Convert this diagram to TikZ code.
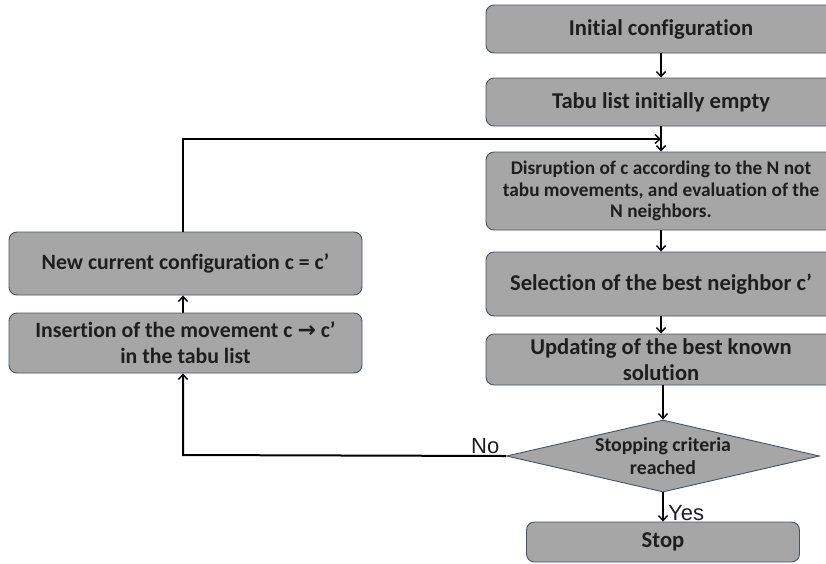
\documentclass[tikz,border=0pt]{standalone}
\usepackage{fontspec}
\setmainfont{Carlito}[Ligatures={NoCommon,NoContextual}]
\newfontfamily\arialfont{Liberation Sans}
\newfontfamily\symfont{DejaVu Sans}
\usetikzlibrary{shapes.geometric,arrows.meta}
\definecolor{boxfill}{RGB}{166,166,166}
\definecolor{boxline}{RGB}{70,84,104}
\definecolor{txt}{RGB}{30,30,30}
\begin{document}
\begin{tikzpicture}[x=1pt,y=-1pt,
  box/.style={draw=boxline,line width=0.9pt,fill=boxfill,rounded corners=8pt,
    text=txt,font=\bfseries\fontsize{22.6}{26}\selectfont,align=center,inner sep=0pt},
  dec/.style={draw=boxline,line width=0.9pt,fill=boxfill,diamond,aspect=4.35,
    text=txt,font=\bfseries\fontsize{19.8}{23}\selectfont,align=center,inner sep=0pt},
  arr/.style={-{Straight Barb[length=5pt,width=9pt,line width=1.4pt]},line width=1.5pt,black},
  loop/.style={-{Straight Barb[length=5pt,width=9pt,line width=1.4pt]},line width=2pt,black}]
\clip (0,0) rectangle (826,563);
\useasboundingbox (0,0) rectangle (826,563);
\node[box,minimum width=350pt,minimum height=48pt] (init) at (661,29) {Initial configuration};
\node[box,minimum width=350pt,minimum height=48pt] (tabu) at (661,102) {Tabu list initially empty};
\node[box,minimum width=350pt,minimum height=78pt,font=\bfseries\fontsize{19.3}{21.5}\selectfont] (disr) at (661,191) {Disruption of c according to the N not\\tabu movements, and evaluation of the\\N neighbors.};
\node[box,minimum width=350pt,minimum height=64pt] (sel) at (661,284) {Selection of the best neighbor c’};
\node[box,minimum width=350pt,minimum height=51pt] (upd) at (661,359.5) {Updating of the best known\\solution};
\node[dec,minimum width=313pt,minimum height=72pt] (stopq) at (663,456) {Stopping criteria\\reached};
\node[box,minimum width=273pt,minimum height=40pt] (stop) at (663,542) {Stop};
\node[box,minimum width=353pt,minimum height=63pt,font=\bfseries\fontsize{21.8}{26}\selectfont] (newc) at (185.5,263.5) {New current configuration c = c’};
\node[box,minimum width=353pt,minimum height=60pt,font=\bfseries\fontsize{21.8}{26}\selectfont] (ins) at (185.5,343) {Insertion of the movement c {\symfont\bfseries\fontsize{22}{26}\selectfont →} c’\\in the tabu list};
\coordinate (tl) at (183,139);
\coordinate (bl) at (183,455);
\draw[arr] (init.south) -- (tabu.north);
\draw[arr] (tabu.south) -- (disr.north);
\draw[arr] (disr.south) -- (sel.north);
\draw[arr] (sel.south) -- (upd.north);
\draw[arr] (upd.south -| stopq.north) -- (stopq.north);
\draw[arr] (stopq.south) -- (stop.north);
\node[font=\arialfont\fontsize{22}{24}\selectfont,anchor=base west,inner sep=0pt,text=txt] (yes) at (668,520) {Yes};
\draw[loop] (newc.north -| tl) -- (tl) -- (tl -| disr.north);
\draw[arr] (ins.north -| tl) -- (newc.south -| tl);
\draw[loop] (stopq.west) -- (bl) -- (ins.south -| bl);
\node[font=\arialfont\fontsize{22}{24}\selectfont,anchor=base west,inner sep=0pt,text=txt] (no) at (471,453) {No};
\end{tikzpicture}
\end{document}
